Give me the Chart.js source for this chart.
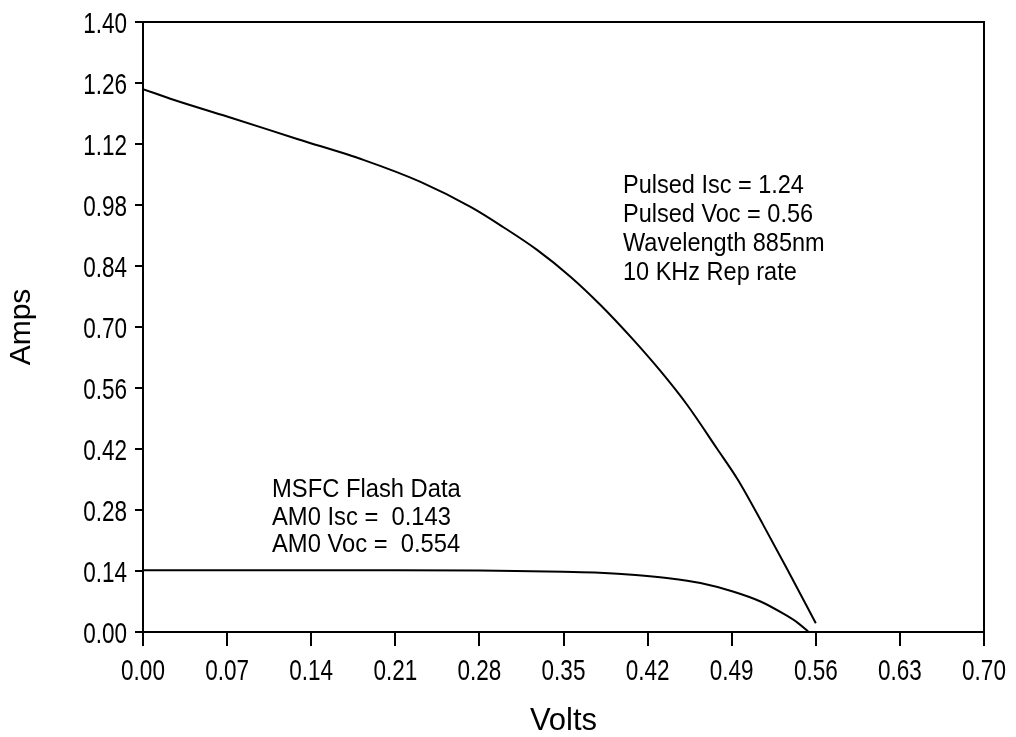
<!DOCTYPE html>
<html><head><meta charset="utf-8">
<script src="https://cdn.jsdelivr.net/npm/chart.js@4/dist/chart.umd.min.js"></script>
<style>html,body{margin:0;padding:0;background:#fff;}#wrap{width:1016px;height:737px;}</style>
</head><body><div id="wrap"><canvas id="c" width="1016" height="737"></canvas></div>
<script>
// Pulsed I-V curve (885nm, 10 KHz)
const pulsedVolts = [0, 0.026, 0.07, 0.129, 0.184, 0.231, 0.273, 0.300, 0.328, 0.356, 0.381, 0.408, 0.431, 0.453, 0.478, 0.495, 0.516, 0.536, 0.560];
const pulsedAmps  = [1.246, 1.221, 1.183, 1.131, 1.083, 1.033, 0.975, 0.929, 0.877, 0.815, 0.750, 0.671, 0.598, 0.521, 0.420, 0.350, 0.247, 0.145, 0.020];
// MSFC flash AM0 curve
const am0Volts = [0, 0.07, 0.14, 0.21, 0.28, 0.31, 0.35, 0.38, 0.41, 0.436, 0.464, 0.491, 0.514, 0.533, 0.545, 0.554];
const am0Amps  = [0.142, 0.142, 0.142, 0.142, 0.141, 0.140, 0.138, 0.136, 0.131, 0.124, 0.1125, 0.093, 0.070, 0.042, 0.021, 0.0];
// Axis ticks
const xTickValues = [0, 0.07, 0.14, 0.21, 0.28, 0.35, 0.42, 0.49, 0.56, 0.63, 0.70];
const xTickLabels = ["0.00", "0.07", "0.14", "0.21", "0.28", "0.35", "0.42", "0.49", "0.56", "0.63", "0.70"];
const yTickValues = [0, 0.14, 0.28, 0.42, 0.56, 0.70, 0.84, 0.98, 1.12, 1.26, 1.40];
const yTickLabels = ["0.00", "0.14", "0.28", "0.42", "0.56", "0.70", "0.84", "0.98", "1.12", "1.26", "1.40"];
const xTitle = "Volts";
const yTitle = "Amps";
const pulsedNotes = ["Pulsed Isc = 1.24", "Pulsed Voc = 0.56", "Wavelength 885nm", "10 KHz Rep rate"];
const flashNotes = ["MSFC Flash Data", "AM0 Isc =  0.143", "AM0 Voc =  0.554"];

const FONT = '"Liberation Sans", Arial, sans-serif';
const toPts = (xs, ys) => xs.map((x, i) => ({x, y: ys[i]}));

function narrowText(ctx, text, x, y, sx) {
  ctx.save();
  ctx.translate(x, y);
  ctx.scale(sx, 1);
  ctx.fillText(text, 0, 0);
  ctx.restore();
}

const textPlugin = {
  id: 'texts',
  afterDraw(chart) {
    const {ctx, chartArea: a} = chart;
    const xs = chart.scales.x, ys = chart.scales.y;
    ctx.save();
    // frame top/right
    ctx.strokeStyle = '#000';
    ctx.lineWidth = 2;
    ctx.beginPath();
    ctx.moveTo(a.left, a.top);
    ctx.lineTo(a.right, a.top);
    ctx.lineTo(a.right, a.bottom);
    ctx.stroke();
    ctx.fillStyle = '#000';
    ctx.textBaseline = 'alphabetic';
    // tick labels positioned by the library's scales
    ctx.font = '30px ' + FONT;
    ctx.textAlign = 'center';
    xTickValues.forEach((v, i) => narrowText(ctx, xTickLabels[i], xs.getPixelForValue(v), a.bottom + 48, 0.75));
    ctx.textAlign = 'right';
    yTickValues.forEach((v, i) => narrowText(ctx, yTickLabels[i], a.left - 16, ys.getPixelForValue(v) + 11, 0.75));
    // annotations
    ctx.font = '25px ' + FONT;
    ctx.textAlign = 'left';
    pulsedNotes.forEach((t, i) => narrowText(ctx, t, 623, 193 + 29 * i, 0.94));
    flashNotes.forEach((t, i) => narrowText(ctx, t, 272, 497 + 27.5 * i, 0.95));
    ctx.restore();
  }
};

const lineStyle = {showLine: true, borderColor: '#000', borderWidth: 2, pointRadius: 0, cubicInterpolationMode: 'monotone'};

new Chart(document.getElementById('c'), {
  type: 'scatter',
  data: {
    datasets: [
      Object.assign({label: 'Pulsed', data: toPts(pulsedVolts, pulsedAmps)}, lineStyle),
      Object.assign({label: 'MSFC Flash', data: toPts(am0Volts, am0Amps)}, lineStyle)
    ]
  },
  options: {
    responsive: false, animation: false, devicePixelRatio: 1,
    layout: {padding: {top: 22, right: 32, left: 0, bottom: 0}},
    plugins: {legend: {display: false}, tooltip: {enabled: false}},
    scales: {
      x: {
        type: 'linear', min: 0, max: 0.70,
        border: {display: true, color: '#000', width: 2},
        grid: {display: true, drawOnChartArea: false, drawTicks: true, tickLength: 14, color: '#000', lineWidth: 2},
        ticks: {display: false},
        title: {display: true, text: xTitle, color: '#000', font: {family: FONT, size: 31, lineHeight: 1}, padding: 0},
        afterBuildTicks: s => { s.ticks = xTickValues.map(v => ({value: v})); },
        afterFit: s => { s.height = 105; }
      },
      y: {
        type: 'linear', min: 0, max: 1.40,
        border: {display: true, color: '#000', width: 2},
        grid: {display: true, drawOnChartArea: false, drawTicks: true, tickLength: 8, color: '#000', lineWidth: 2},
        ticks: {display: false},
        title: {display: true, text: yTitle, color: '#000', font: {family: FONT, size: 30, lineHeight: 1}, padding: {top: 7, bottom: 0}},
        afterBuildTicks: s => { s.ticks = yTickValues.map(v => ({value: v})); },
        afterFit: s => { s.width = 143; }
      }
    }
  },
  plugins: [textPlugin]
});
</script></body></html>
